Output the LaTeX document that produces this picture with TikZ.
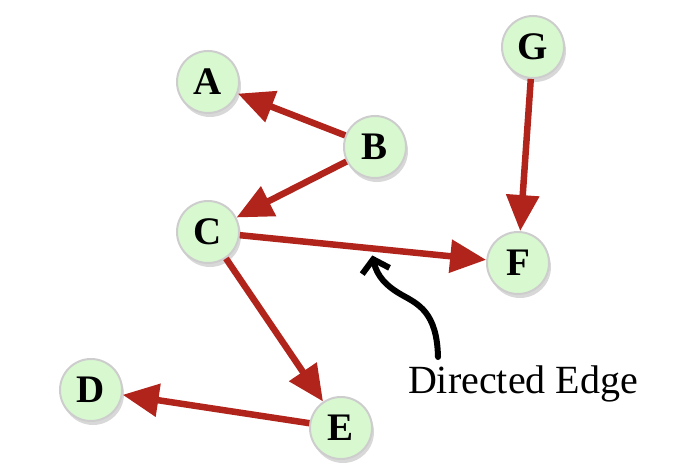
\documentclass[tikz,border=0pt]{standalone}
\usepackage{fontspec}
\setmainfont{Liberation Serif}
\usetikzlibrary{arrows.meta,shadows,calc}
\definecolor{vertexgreen}{RGB}{216,248,208}
\definecolor{vertexrim}{RGB}{205,205,205}
\definecolor{edgered}{RGB}{176,36,28}

\begin{document}
\begin{tikzpicture}[x=1pt,y=-1pt,
        vertex/.style={circle, minimum size=62pt, inner sep=0pt, fill=vertexgreen,
          draw=vertexrim, line width=2pt,
          drop shadow={shadow xshift=2pt, shadow yshift=-4pt, fill=black!30, opacity=0.5},
          font=\fontsize{39}{39}\selectfont\bfseries},
        edge/.style={edgered, line width=6.5pt, -{Triangle[length=36pt,width=32pt]}}]
        \useasboundingbox (0,0) rectangle (698,476);
        % vertices
        \node [vertex] (A) at (208,82) {A};
        \node [vertex] (B) at (375,147) {B};
        \node [vertex] (C) at (208,232) {C};
        \node [vertex] (G) at (533,47) {G};
        \node [vertex] (F) at (518,263) {F};
        \node [vertex] (D) at (91,390) {D};
        \node [vertex] (E) at (341,428) {E};
        % edges
        \draw [edge] (B) -- (A);
        \draw [edge] (B) -- (C);
        \draw [edge] (C) -- (F);
        \draw [edge] (G) -- (F);
        \draw [edge] (C) -- (E);
        \draw [edge] (E) -- (D);
        % label
        \node [font=\fontsize{40}{40}\selectfont] (lbl) at (523,384) {Directed Edge};
        \coordinate (tail) at (438,357);
        \coordinate (tip) at ($(C)!0.53!(F)+(0,7)$);
        \draw [black, line width=6pt, line cap=round, -{Straight Barb[length=12pt,width=28pt]}]
          (tail) .. controls (437,312) and (418,304) .. (402,295)
          .. controls (386,286) and (377,276) .. (tip);
\end{tikzpicture}
\end{document}
